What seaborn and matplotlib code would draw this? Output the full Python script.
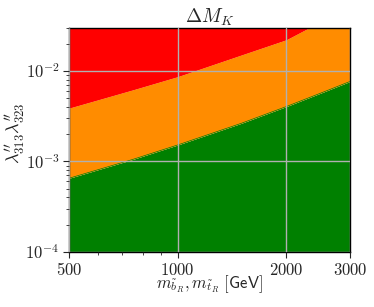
import matplotlib
matplotlib.use("Agg")
import matplotlib.pyplot as plt
import numpy as np
import pandas as pd
import seaborn as sns
from matplotlib.ticker import FixedLocator, FuncFormatter, NullFormatter

# ── data ─────────────────────────────────────────────────────────────────────
mass        = [500, 750, 1000, 1500, 2000, 2500, 3000]            # GeV
lam_green   = [6.5e-4, 1.05e-3, 1.52e-3, 2.64e-3, 4.05e-3, 5.74e-3, 7.67e-3]
lam_red     = [3.9e-3, 6.2e-3, 8.7e-3, 1.51e-2, 2.23e-2, 3.56e-2, 5.2e-2]
x_ticks     = [500, 1000, 2000, 3000]
y_ticks     = [1e-4, 1e-3, 1e-2]
y_lo, y_hi  = 1e-4, 3e-2

df = pd.DataFrame({"mass": mass, "green": lam_green, "red": lam_red})

sns.set_style("ticks")
plt.rcParams["mathtext.fontset"] = "cm"
plt.rcParams["font.family"] = ["DejaVu Sans"]

fig = plt.figure(figsize=(3.74, 3.07), dpi=100)
ax = fig.add_axes([0.1845, 0.180, 0.7515, 0.729])

ax.fill_between(df["mass"], y_lo, df["green"], color="green", lw=0)
ax.fill_between(df["mass"], df["green"], df["red"], color="darkorange", lw=0)
ax.fill_between(df["mass"], df["red"], 1.0, color="red", lw=0)
sns.lineplot(data=df, x="mass", y="green", ax=ax, color="green", lw=0.5)
sns.lineplot(data=df, x="mass", y="red", ax=ax, color="red", lw=0.5)

ax.set_xscale("log")
ax.set_yscale("log")
ax.set_xlim(500, 3000)
ax.set_ylim(y_lo, y_hi)

ax.xaxis.set_major_locator(FixedLocator(x_ticks))
ax.xaxis.set_major_formatter(FuncFormatter(lambda v, p: rf"$\mathrm{{{int(v)}}}$"))
ax.xaxis.set_minor_formatter(NullFormatter())
ax.yaxis.set_major_locator(FixedLocator(y_ticks))
ax.yaxis.set_major_formatter(
    FuncFormatter(lambda v, p: rf"$10^{{{int(round(np.log10(v)))}}}$"))
ax.yaxis.set_minor_formatter(NullFormatter())
ax.tick_params(axis="both", which="major", labelsize=12, length=4, width=0.8, pad=3)
ax.tick_params(axis="both", which="minor", length=2.5, width=0.6)

ax.grid(True, which="major", color="#b0b0b0", lw=1.0)
ax.set_axisbelow(False)
for s in ax.spines.values():
    s.set_linewidth(1.0)
    s.set_color("black")

ax.set_title(r"$\Delta M_K$", fontsize=14, pad=4)
ax.set_xlabel(r"$m_{\tilde{b}_R}, m_{\tilde{t}_R}\ [\mathsf{GeV}]$", fontsize=12,
              va="baseline")
ax.xaxis.set_label_coords(0.5, -0.162)
ax.set_ylabel(r"$\lambda^{\prime\prime}_{313}\lambda^{\prime\prime}_{323}$", fontsize=13)
ax.yaxis.set_label_coords(-0.15, 0.53)

fig.savefig("out.png", dpi=100)
